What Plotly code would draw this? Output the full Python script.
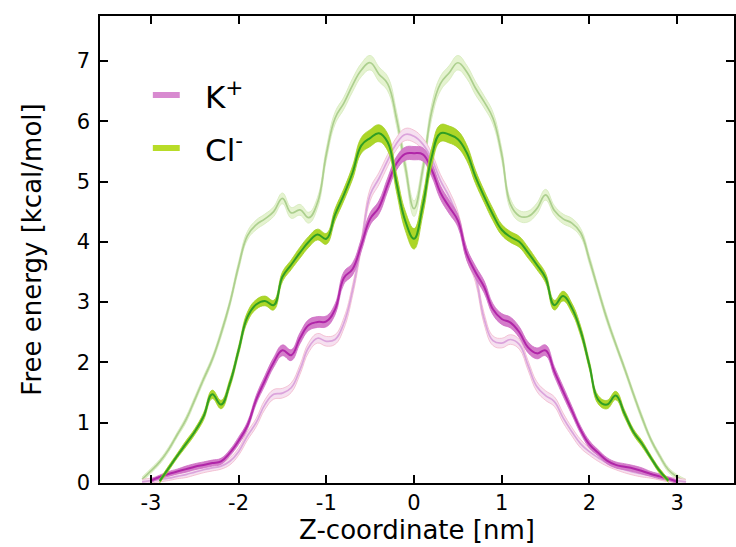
import numpy as np
import plotly.graph_objects as go

# Position along the channel axis (nm), sampled every 0.1 nm
z = np.round(np.arange(-3.1, 3.1001, 0.1), 1).tolist()

# Free-energy profiles (kcal/mol); None where a profile is not defined
cl_ref = [0.06, 0.2, 0.35, 0.55, 0.8, 1.05, 1.38, 1.72, 2.05, 2.48, 2.98, 3.6, 4.1, 4.28, 4.38, 4.5, 4.72, 4.48, 4.53, 4.4, 4.65, 5.45, 6.05, 6.3, 6.6, 6.85, 6.97, 6.78, 6.62, 6.05, 5.25,
          4.55,
          5.2, 6.15, 6.62, 6.8, 6.97, 6.82, 6.55, 6.32, 6.05, 5.45, 4.62, 4.43, 4.42, 4.55, 4.78, 4.52, 4.38, 4.31, 4.15, 3.7, 3.2, 2.72, 2.3, 1.9, 1.48, 1.08, 0.72, 0.45, 0.22, 0.1, 0.02]
cl_ref_err = [0.04, 0.04, 0.04, 0.04, 0.04, 0.05, 0.05, 0.05, 0.05, 0.06, 0.06, 0.07, 0.07, 0.08, 0.08, 0.08, 0.09, 0.09, 0.09, 0.09, 0.09, 0.1, 0.1, 0.1, 0.11, 0.11, 0.12, 0.12, 0.12, 0.12, 0.12,
              0.13,
              0.12, 0.12, 0.12, 0.12, 0.12, 0.11, 0.11, 0.1, 0.1, 0.1, 0.09, 0.09, 0.09, 0.09, 0.09, 0.08, 0.08, 0.08, 0.07, 0.07, 0.06, 0.06, 0.05, 0.05, 0.05, 0.05, 0.04, 0.04, 0.04, 0.04, 0.04]

cl = [None, None, 0.03, 0.24, 0.45, 0.65, 0.85, 1.1, 1.47, 1.3, 1.65, 2.2, 2.75, 2.96, 3.02, 2.95, 3.42, 3.62, 3.82, 4.0, 4.12, 4.05, 4.45, 4.78, 5.15, 5.6, 5.72, 5.8, 5.65, 4.98, 4.35,
      4.05,
      4.6, 5.4, 5.8, 5.78, 5.7, 5.48, 5.08, 4.75, 4.45, 4.2, 4.08, 4.0, 3.82, 3.62, 3.4, 2.95, 3.1, 2.9, 2.52, 1.95, 1.38, 1.3, 1.45, 1.15, 0.85, 0.65, 0.42, 0.2, 0.04, None, None]
cl_err = [None, None, 0.03, 0.04, 0.04, 0.05, 0.05, 0.06, 0.07, 0.07, 0.07, 0.07, 0.08, 0.08, 0.08, 0.08, 0.08, 0.08, 0.09, 0.09, 0.09, 0.09, 0.1, 0.1, 0.11, 0.13, 0.14, 0.14, 0.14, 0.15, 0.16,
          0.17,
          0.16, 0.15, 0.14, 0.14, 0.14, 0.13, 0.11, 0.1, 0.1, 0.09, 0.09, 0.09, 0.09, 0.08, 0.08, 0.08, 0.08, 0.08, 0.08, 0.07, 0.07, 0.07, 0.07, 0.06, 0.05, 0.05, 0.04, 0.04, 0.03, None, None]

k_ref = [0.02, 0.04, 0.06, 0.08, 0.11, 0.14, 0.18, 0.22, 0.25, 0.28, 0.36, 0.52, 0.78, 1.0, 1.3, 1.47, 1.49, 1.58, 1.88, 2.25, 2.4, 2.35, 2.38, 2.65, 3.2, 3.97, 4.78, 5.05, 5.35, 5.63, 5.78,
         5.75,
         5.62, 5.38, 5.02, 4.75, 4.4, 3.8, 3.42, 2.72, 2.36, 2.32, 2.38, 2.3, 1.95, 1.6, 1.45, 1.35, 1.08, 0.85, 0.65, 0.52, 0.42, 0.33, 0.27, 0.22, 0.18, 0.15, 0.12, 0.09, 0.06, 0.04, 0.02]
k_ref_err = [0.04, 0.04, 0.04, 0.04, 0.04, 0.05, 0.05, 0.05, 0.05, 0.05, 0.06, 0.06, 0.07, 0.07, 0.08, 0.08, 0.08, 0.08, 0.08, 0.08, 0.08, 0.08, 0.08, 0.09, 0.09, 0.09, 0.1, 0.1, 0.1, 0.1, 0.1,
             0.1,
             0.1, 0.1, 0.1, 0.1, 0.1, 0.09, 0.09, 0.09, 0.08, 0.08, 0.08, 0.08, 0.08, 0.08, 0.08, 0.08, 0.08, 0.07, 0.07, 0.06, 0.06, 0.05, 0.05, 0.05, 0.05, 0.05, 0.04, 0.04, 0.04, 0.04, 0.04]

k = [None, 0.04, 0.1, 0.15, 0.19, 0.23, 0.27, 0.3, 0.33, 0.36, 0.5, 0.7, 0.95, 1.38, 1.7, 2.0, 2.2, 2.12, 2.4, 2.62, 2.67, 2.68, 2.88, 3.4, 3.55, 3.95, 4.38, 4.57, 4.95, 5.3, 5.46,
     5.47,
     5.45, 5.2, 4.82, 4.58, 4.35, 3.8, 3.5, 3.25, 2.88, 2.72, 2.66, 2.5, 2.25, 2.15, 2.2, 1.85, 1.52, 1.2, 0.88, 0.64, 0.5, 0.37, 0.3, 0.27, 0.24, 0.2, 0.15, 0.11, 0.07, 0.02, None]
k_err = [None, 0.03, 0.03, 0.04, 0.04, 0.05, 0.05, 0.05, 0.05, 0.05, 0.05, 0.06, 0.06, 0.07, 0.08, 0.08, 0.09, 0.09, 0.09, 0.09, 0.09, 0.09, 0.09, 0.1, 0.1, 0.1, 0.1, 0.11, 0.11, 0.11, 0.11,
         0.11,
         0.11, 0.11, 0.11, 0.11, 0.1, 0.1, 0.1, 0.1, 0.09, 0.09, 0.09, 0.09, 0.09, 0.09, 0.09, 0.08, 0.08, 0.07, 0.06, 0.06, 0.05, 0.05, 0.05, 0.05, 0.05, 0.05, 0.04, 0.04, 0.03, 0.03, None]

x_ticks = [-3, -2, -1, 0, 1, 2, 3]
y_ticks = [0, 1, 2, 3, 4, 5, 6, 7]
legend_labels = ["K<sup>+</sup>", "Cl<sup>-</sup>"]

FONT = "DejaVu Sans"
fig = go.Figure()


def add_profile(values, errors, band_fill, band_edge, line_color, line_width):
    pts = [(zz, v, e) for zz, v, e in zip(z, values, errors) if v is not None]
    xs = [p[0] for p in pts]
    upper = [p[1] + p[2] for p in pts]
    lower = [p[1] - p[2] for p in pts]
    mid = [p[1] for p in pts]
    spline = dict(shape="spline", smoothing=1.2)
    fig.add_trace(go.Scatter(x=xs, y=upper, mode="lines", showlegend=False, hoverinfo="skip",
                             line=dict(color=band_edge, width=0.8, **spline)))
    fig.add_trace(go.Scatter(x=xs, y=lower, mode="lines", showlegend=False, hoverinfo="skip",
                             fill="tonexty", fillcolor=band_fill,
                             line=dict(color=band_edge, width=0.8, **spline)))
    fig.add_trace(go.Scatter(x=xs, y=mid, mode="lines", showlegend=False,
                             line=dict(color=line_color, width=line_width, **spline)))


# faded reference profiles underneath
add_profile(cl_ref, cl_ref_err, "rgb(229,243,208)", "rgb(212,234,186)", "rgb(172,207,142)", 1.7)
add_profile(k_ref, k_ref_err, "rgb(246,224,240)", "rgb(241,184,204)", "rgb(219,164,220)", 1.7)
# main profiles
add_profile(k, k_err, "rgb(212,124,202)", "rgb(206,110,196)", "rgb(176,38,168)", 2.0)
add_profile(cl, cl_err, "rgb(172,214,40)", "rgb(162,206,38)", "rgb(48,158,36)", 2.0)

# hand-drawn legend
W, H = 736, 547
ML, MR, MT, MB = 100, 0, 16, 64
pw, ph = W - ML - MR, H - MT - MB


def px_x(px):
    return (px - ML) / pw


def px_y(py):
    return (H - MB - py) / ph


legend_colors = ["rgb(216,138,208)", "rgb(184,220,40)"]
legend_rows = [95, 148]
shapes = []
annotations = []
for lab, col, row in zip(legend_labels, legend_colors, legend_rows):
    shapes.append(dict(type="line", xref="paper", yref="paper",
                       x0=px_x(153), x1=px_x(180), y0=px_y(row), y1=px_y(row),
                       line=dict(color=col, width=6)))
    annotations.append(dict(text=lab, xref="paper", yref="paper",
                            x=px_x(203), y=px_y(row), xanchor="left", yanchor="middle",
                            showarrow=False, font=dict(family=FONT, size=31, color="black")))

axis_common = dict(showline=True, linecolor="black", linewidth=1.6, mirror="ticks",
                   ticks="inside", ticklen=8, tickwidth=1.5, tickcolor="black",
                   showgrid=False, zeroline=False,
                   tickfont=dict(family=FONT, size=21, color="black"))

fig.update_layout(
    width=W, height=H,
    margin=dict(l=ML, r=MR, t=MT, b=MB),
    plot_bgcolor="white", paper_bgcolor="white",
    showlegend=False,
    shapes=shapes, annotations=annotations,
    xaxis=dict(range=[-3.58, 3.648], tickvals=x_ticks, ticktext=[str(v) for v in x_ticks],
               title=dict(text="Z-coordinate [nm]", font=dict(family=FONT, size=26, color="black"), standoff=6),
               ticklabelstandoff=0, **axis_common),
    yaxis=dict(range=[0, 7.745], tickvals=y_ticks,
               title=dict(text="Free energy [kcal/mol]", font=dict(family=FONT, size=26, color="black"), standoff=28),
               ticklabelstandoff=4, **axis_common),
)

fig.write_html("out.html")
